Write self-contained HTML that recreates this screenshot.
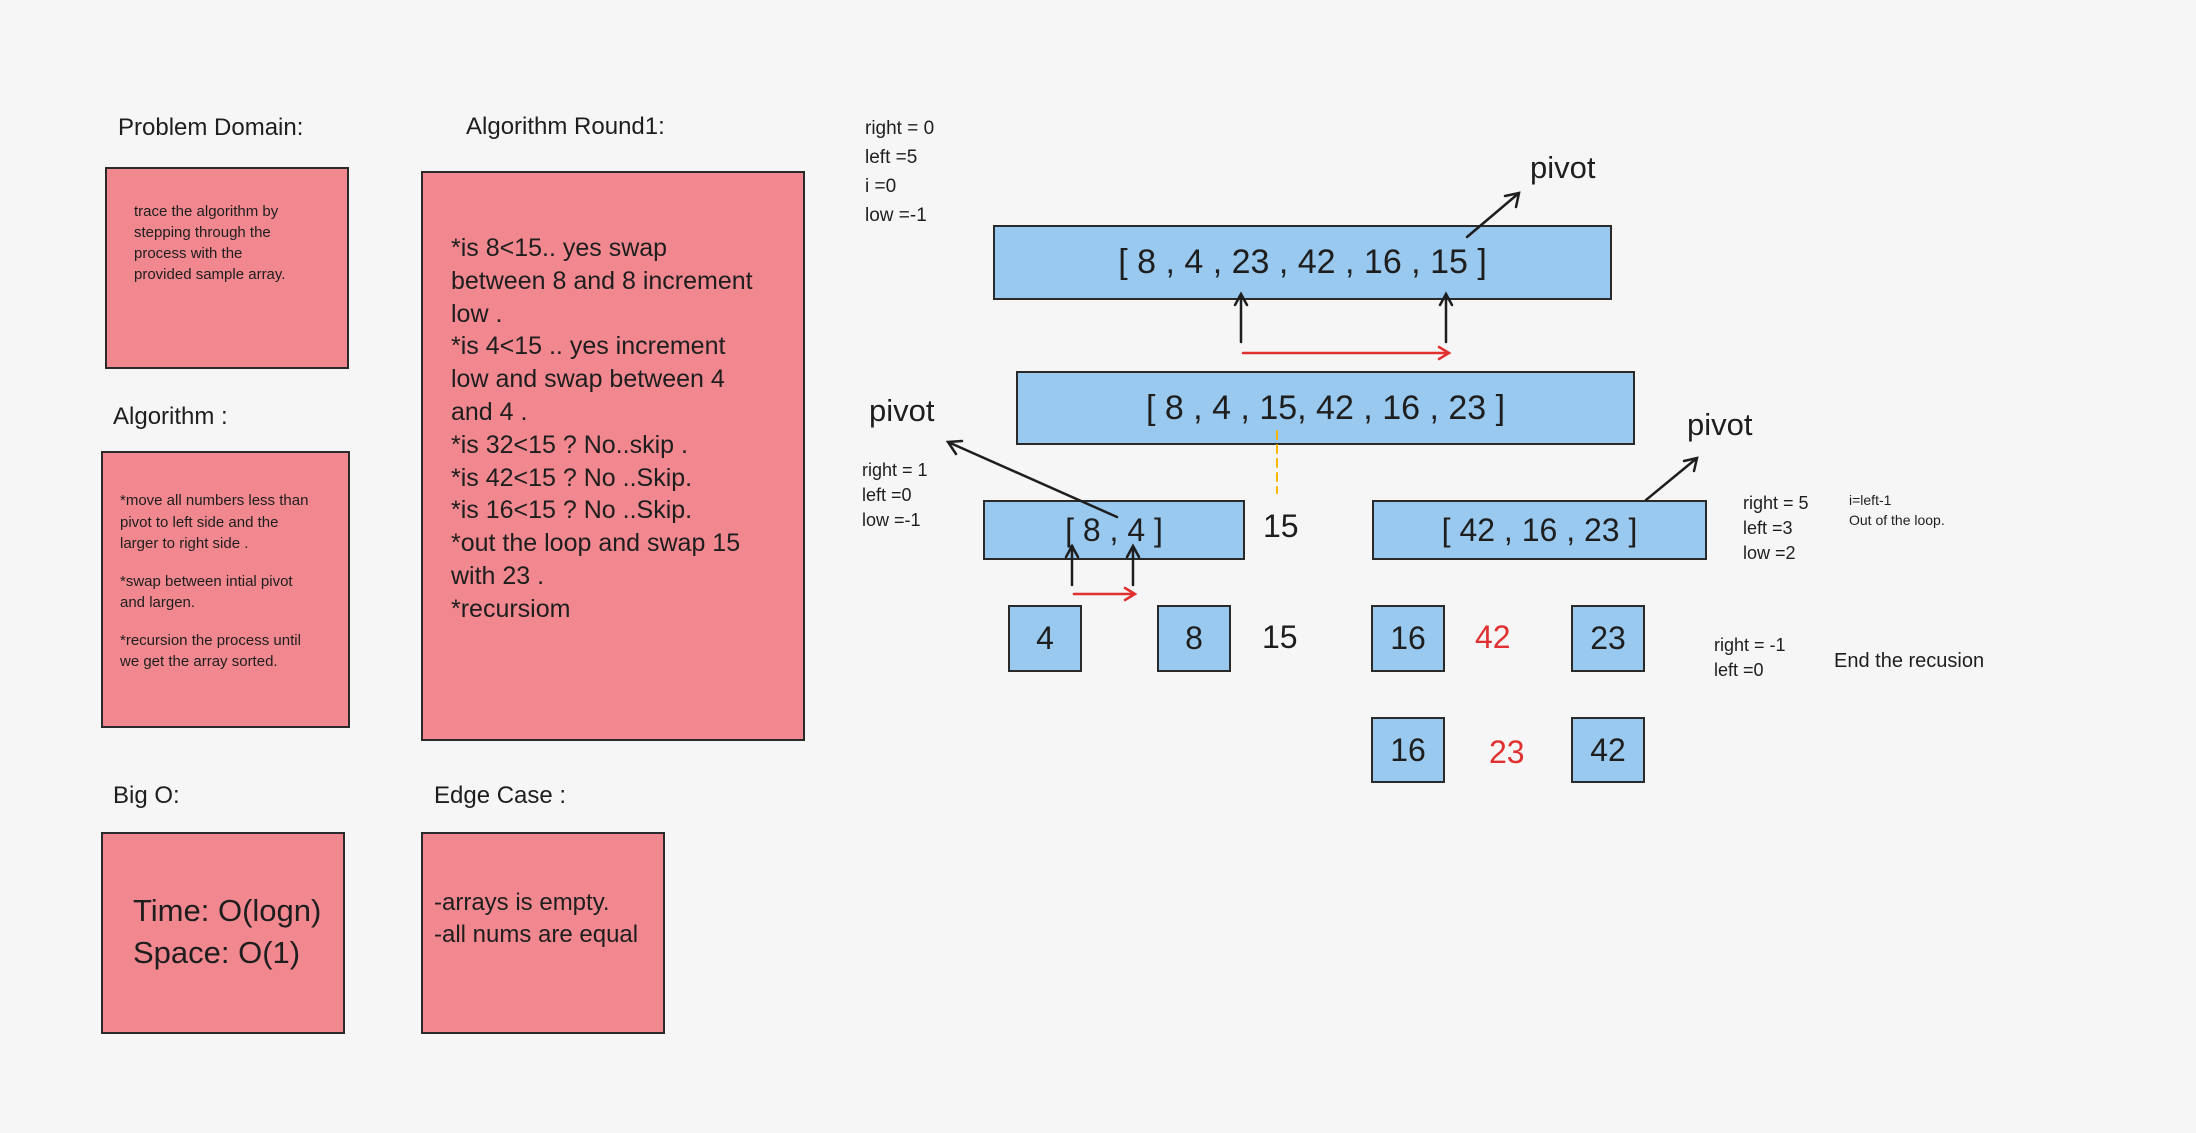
<!DOCTYPE html>
<html><head><meta charset="utf-8"><style>
body{margin:0;width:2196px;height:1133px;background:#f6f6f6;position:relative;overflow:hidden;font-family:"Liberation Sans",sans-serif;color:#1e1e1e}
.a{position:absolute;white-space:nowrap}
.box{position:absolute;border:2px solid #2a2a2a;box-sizing:border-box}
.p{background:#f1888f}
.b{background:#99c9ef;display:flex;align-items:center;justify-content:center}
</style></head><body>
<div class="a" style="left:118px;top:114px;font-size:24px">Problem Domain:</div>
<div class="box p" style="left:105px;top:167px;width:244px;height:202px"></div>
<div class="a" style="left:134px;top:201px;font-size:15px;line-height:21px">trace the algorithm by<br>stepping through the<br>process with the<br>provided sample array.</div>

<div class="a" style="left:113px;top:403px;font-size:24px">Algorithm :</div>
<div class="box p" style="left:101px;top:451px;width:249px;height:277px"></div>
<div class="a" style="left:120px;top:490px;font-size:15px;line-height:21.5px">*move all numbers less than<br>pivot to left side and the<br>larger to right side .<br><div style="height:16px"></div>*swap between intial pivot<br>and largen.<br><div style="height:16px"></div>*recursion the process until<br>we get the array sorted.</div>

<div class="a" style="left:466px;top:113px;font-size:24px">Algorithm Round1:</div>
<div class="box p" style="left:421px;top:171px;width:384px;height:570px"></div>
<div class="a" style="left:451px;top:232px;font-size:25px;line-height:32.8px">*is 8&lt;15.. yes swap<br>between 8 and 8 increment<br>low .<br>*is 4&lt;15 .. yes increment<br>low and swap between 4<br>and 4 .<br>*is 32&lt;15 ? No..skip .<br>*is 42&lt;15 ? No ..Skip.<br>*is 16&lt;15 ? No ..Skip.<br>*out the loop and swap 15<br>with 23 .<br>*recursiom</div>

<div class="a" style="left:113px;top:782px;font-size:24px">Big O:</div>
<div class="box p" style="left:101px;top:832px;width:244px;height:202px"></div>
<div class="a" style="left:133px;top:890px;font-size:31px;line-height:42px">Time: O(logn)<br>Space: O(1)</div>

<div class="a" style="left:434px;top:782px;font-size:24px">Edge Case :</div>
<div class="box p" style="left:421px;top:832px;width:244px;height:202px"></div>
<div class="a" style="left:434px;top:887px;font-size:24px;line-height:32px">-arrays is empty.<br>-all nums are equal</div>

<div class="a" style="left:865px;top:114px;font-size:19px;line-height:29px">right = 0<br>left =5<br>i =0<br>low =-1</div>

<div class="box b" style="left:993px;top:225px;width:619px;height:75px;font-size:34px">[ 8 , 4 , 23 , 42 , 16 , 15 ]</div>
<div class="a" style="left:1530px;top:150px;font-size:31px">pivot</div>
<div class="box b" style="left:1016px;top:371px;width:619px;height:74px;font-size:34px">[ 8 , 4 , 15, 42 , 16 , 23 ]</div>
<div class="a" style="left:869px;top:393px;font-size:31px">pivot</div>
<div class="a" style="left:862px;top:458px;font-size:18px;line-height:25px">right = 1<br>left =0<br>low =-1</div>
<div class="box b" style="left:983px;top:500px;width:262px;height:60px;font-size:32px">[ 8 , 4 ]</div>
<div class="a" style="left:1263px;top:508px;font-size:32px">15</div>
<div class="box b" style="left:1372px;top:500px;width:335px;height:60px;font-size:32px">[ 42 , 16 , 23 ]</div>
<div class="a" style="left:1687px;top:407px;font-size:31px">pivot</div>
<div class="a" style="left:1743px;top:491px;font-size:18px;line-height:25px">right = 5<br>left =3<br>low =2</div>
<div class="a" style="left:1849px;top:490px;font-size:14px;line-height:20px">i=left-1<br>Out of the loop.</div>

<div class="box b" style="left:1008px;top:605px;width:74px;height:67px;font-size:32px">4</div>
<div class="box b" style="left:1157px;top:605px;width:74px;height:67px;font-size:32px">8</div>
<div class="a" style="left:1262px;top:619px;font-size:32px">15</div>
<div class="box b" style="left:1371px;top:605px;width:74px;height:67px;font-size:32px">16</div>
<div class="a" style="left:1475px;top:619px;font-size:32px;color:#e0302f">42</div>
<div class="box b" style="left:1571px;top:605px;width:74px;height:67px;font-size:32px">23</div>
<div class="box b" style="left:1371px;top:717px;width:74px;height:66px;font-size:32px">16</div>
<div class="a" style="left:1489px;top:734px;font-size:32px;color:#e0302f">23</div>
<div class="box b" style="left:1571px;top:717px;width:74px;height:66px;font-size:32px">42</div>
<div class="a" style="left:1714px;top:633px;font-size:18px;line-height:25px">right = -1<br>left =0</div>
<div class="a" style="left:1834px;top:650px;font-size:20px">End the recusion</div>

<svg width="2196" height="1133" style="position:absolute;left:0;top:0" fill="none" stroke-width="2.5" stroke-linecap="round">
<g stroke="#1e1e1e">
<path d="M1467 237L1519 193M1505 196L1519 193L1516 207"/>
<path d="M1241 342V294M1235 305L1241 294L1247 305"/>
<path d="M1446 342V294M1440 305L1446 294L1452 305"/>
<path d="M1117 517L948 442M956 454L948 442L962 441"/>
<path d="M1646 500L1697 458M1684 461L1697 458L1694 471"/>
<path d="M1072 585V546M1066 557L1072 546L1078 557"/>
<path d="M1133 585V546M1127 557L1133 546L1139 557"/>
</g>
<g stroke="#e0302f">
<path d="M1243 353H1449M1439 347L1449 353L1439 359"/>
<path d="M1074 594H1135M1125 588L1135 594L1125 600"/>
</g>
<path d="M1277 431V493" stroke="#f5b700" stroke-width="2" stroke-dasharray="8 6"/>
</svg>
</body></html>
